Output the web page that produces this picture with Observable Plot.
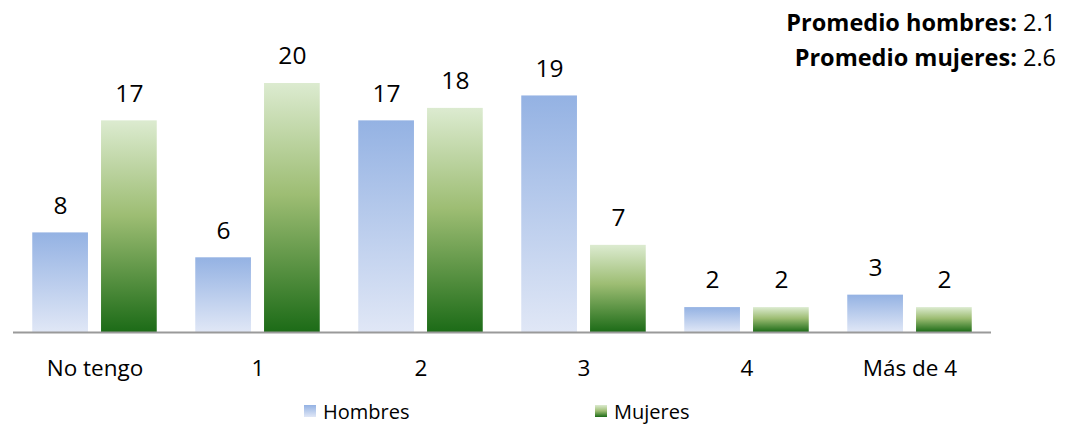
<!DOCTYPE html>
<html><head><meta charset="utf-8">
<script src="https://cdn.jsdelivr.net/npm/d3@7"></script>
<script src="https://cdn.jsdelivr.net/npm/@observablehq/plot@0.6"></script>
<style>
body{margin:0;background:#fff;font-family:"Open Sans",sans-serif;}
#wrap{position:relative;width:1065px;height:424px;}
#prom{position:absolute;right:9px;top:5px;text-align:right;font-size:23.5px;line-height:35px;color:#000;}
#prom b{font-weight:bold;}
#legend{position:absolute;left:0;top:398px;height:26px;font-size:20px;color:#000;}
.item{position:absolute;top:0;display:flex;align-items:center;white-space:nowrap;height:26px;}
.sw{width:12px;height:12px;margin-right:7px;}
</style></head>
<body><div id="wrap"><div id="chart"></div><div id="prom"></div><div id="legend"></div></div>
<script>
const categories = ["No tengo", "1", "2", "3", "4", "Más de 4"];
const series = ["Hombres", "Mujeres"];
const hombres = [8, 6, 17, 19, 2, 3];
const mujeres = [17, 20, 18, 7, 2, 2];
const promedioLabels = ["Promedio hombres:", "Promedio mujeres:"];
const promedioValues = ["2.1", "2.6"];

const data = [];
categories.forEach((c, i) => {
  data.push({cat: c, s: "Hombres", v: hombres[i]});
  data.push({cat: c, s: "Mujeres", v: mujeres[i]});
});

const chart = Plot.plot({
  width: 1065,
  height: 398,
  marginLeft: 12,
  marginRight: 74,
  marginTop: 0,
  marginBottom: 66,
  style: {fontFamily: "'Open Sans', sans-serif", background: "#fff", color: "#000"},
  fx: {domain: categories, padding: 0, label: null, tickSize: 0, tickPadding: 28},
  x: {domain: series, paddingInner: 0.19, paddingOuter: 0.28, round: false, axis: null},
  y: {domain: [0, 20], range: [332, 83], axis: null},
  color: {domain: series, range: ["url(#gB)", "url(#gG)"]},
  marks: [
    Plot.barY(data, {fx: "cat", x: "s", y: "v", fill: "s"}),
    Plot.ruleY([0], {stroke: "#9a9a9a", strokeWidth: 2.2}),
    Plot.text(data, {fx: "cat", x: "s", y: "v", text: d => String(d.v), dy: -27, fontSize: 24.5, fill: "#000"})
  ]
});
const svg = chart.tagName.toLowerCase() === "svg" ? chart : chart.querySelector("svg");
svg.querySelectorAll("g[aria-label='fx-axis tick label']").forEach(e => e.setAttribute("font-size", "22.5"));
const ns = "http://www.w3.org/2000/svg";
const defs = document.createElementNS(ns, "defs");
defs.innerHTML = `
<linearGradient id="gB" x1="0" y1="0" x2="0" y2="1">
  <stop offset="0" stop-color="#94b2e3"/>
  <stop offset="1" stop-color="#e0e7f6"/>
</linearGradient>
<linearGradient id="gG" x1="0" y1="0" x2="0" y2="1">
  <stop offset="0" stop-color="#dcebd0"/>
  <stop offset="0.45" stop-color="#9dbd73"/>
  <stop offset="1" stop-color="#1c6b17"/>
</linearGradient>`;
svg.insertBefore(defs, svg.firstChild);
document.getElementById("chart").appendChild(chart);

document.getElementById("prom").innerHTML = promedioLabels.map((l, i) => `<div><b>${l}</b> ${promedioValues[i]}</div>`).join("");

const legendX = [304, 595];
const swatchBg = ["linear-gradient(#94b2e3,#e0e7f6)", "linear-gradient(#dcebd0,#9dbd73,#1c6b17)"];
document.getElementById("legend").innerHTML = series.map((s, i) =>
  `<div class="item" style="left:${legendX[i]}px"><div class="sw" style="background:${swatchBg[i]}"></div><span>${s}</span></div>`).join("");
</script></body></html>
